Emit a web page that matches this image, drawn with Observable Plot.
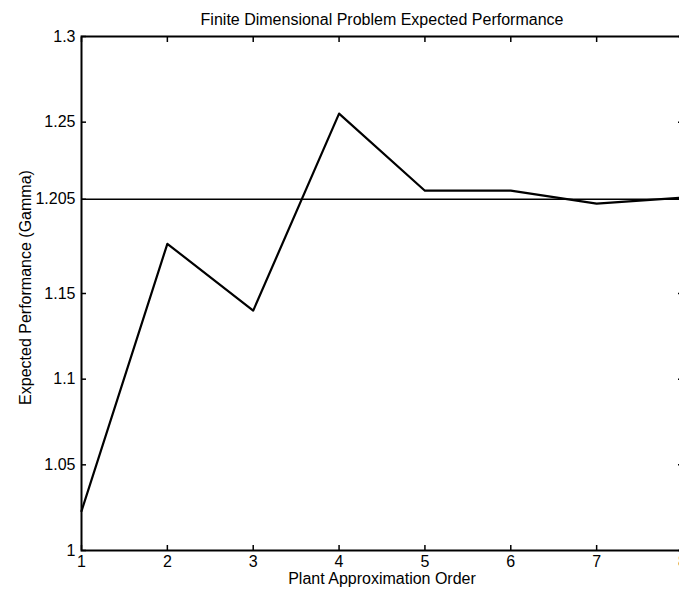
<!DOCTYPE html>
<html>
<head>
<meta charset="utf-8">
<script src="https://cdn.jsdelivr.net/npm/d3@7"></script>
<script src="https://cdn.jsdelivr.net/npm/@observablehq/plot@0.6"></script>
<style>
  html, body { margin: 0; padding: 0; background: #fff; overflow: hidden; }
  #chart svg { overflow: visible; }
</style>
</head>
<body>
<div id="chart"></div>
<script>
const titleText = "Finite Dimensional Problem Expected Performance";
const xLabel = "Plant Approximation Order";
const yLabel = "Expected Performance (Gamma)";
const orders = [1, 2, 3, 4, 5, 6, 7, 8];
const gamma = [1.023, 1.179, 1.140, 1.255, 1.210, 1.210, 1.2025, 1.206];
const infiniteGamma = 1.205;
const xTicks = [1, 2, 3, 4, 5, 6, 7, 8];
const yTicks = [1, 1.05, 1.1, 1.15, 1.205, 1.25, 1.3];
const yTickLabels = ["1", "1.05", "1.1", "1.15", "1.205", "1.25", "1.3"];

const data = orders.map((o, i) => ({order: o, gamma: gamma[i]}));
const font = "'Liberation Sans', Arial, Helvetica, sans-serif";

const chart = Plot.plot({
  width: 679,
  height: 590,
  marginTop: 36,
  marginBottom: 40,
  marginLeft: 81,
  marginRight: -3,
  style: {fontFamily: font, fontSize: "16px", color: "#000", background: "#fff"},
  x: {domain: [1, 8]},
  y: {domain: [1, 1.3]},
  marks: [
    Plot.frame({stroke: "#000", strokeWidth: 2}),
    Plot.axisY(yTicks, {anchor: "left", tickSize: -5, tickPadding: 11, strokeWidth: 1.5,
      tickFormat: (d, i) => yTickLabels[i], label: null, fontSize: 16}),
    Plot.axisY(yTicks, {anchor: "right", tickSize: -5, fill: "none", label: null, strokeWidth: 1.5}),
    Plot.axisX(xTicks, {anchor: "bottom", tickSize: -5, tickPadding: 10, strokeWidth: 1.5,
      tickFormat: d => String(d), label: null, fontSize: 16}),
    Plot.axisX(xTicks, {anchor: "top", tickSize: -5, fill: "none", label: null, strokeWidth: 1.5}),
    Plot.ruleY([infiniteGamma], {stroke: "#000", strokeWidth: 1.6}),
    Plot.line(data, {x: "order", y: "gamma", stroke: "#000", strokeWidth: 2.2}),
    Plot.text([titleText], {frameAnchor: "top", dy: -17, lineAnchor: "middle", fontSize: 16, fill: "#000"}),
    Plot.text([xLabel], {frameAnchor: "bottom", dy: 28, lineAnchor: "middle", fontSize: 16, fill: "#000"}),
    Plot.text([yLabel], {frameAnchor: "left", dx: -56, dy: -6, rotate: -90, textAnchor: "middle",
      lineAnchor: "middle", fontSize: 16, fill: "#000"})
  ]
});
document.getElementById("chart").appendChild(chart);
</script>
</body>
</html>
